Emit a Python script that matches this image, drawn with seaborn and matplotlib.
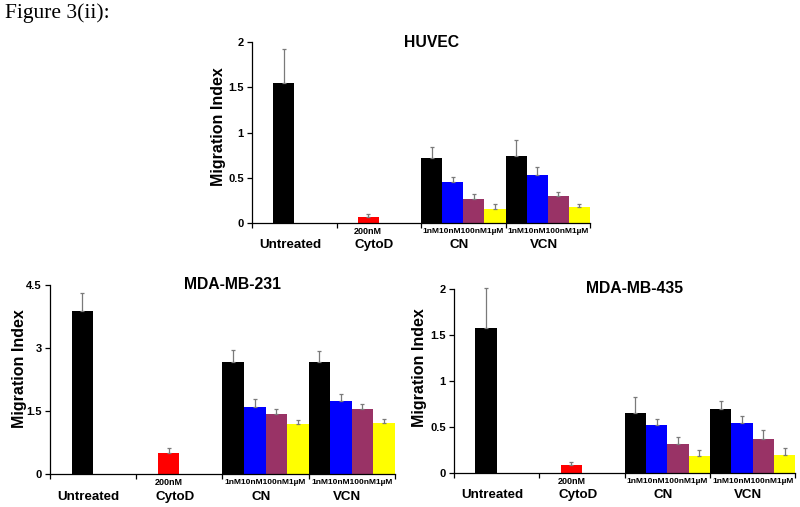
"""
Recreates Figure 3(ii): migration index bar charts for three cell lines.
"""
import matplotlib
matplotlib.use("Agg")
import matplotlib.pyplot as plt
import numpy as np
import pandas as pd
import seaborn as sns

# Shared categories and tick labels
groups = ["Untreated", "CytoD", "CN", "VCN"]
conc_labels = ["1nM", "10nM", "100nM", "1\u00b5M"]
cytod_label = "200nM"

# One entry per bar: group and dodge slot
bar_group = ["Untreated", "CytoD"] + ["CN"] * 4 + ["VCN"] * 4
bar_slot = ["10nM", "10nM"] + conc_labels * 2

# Values (mean, upper error)
huvec_mean = [1.55, 0.067, 0.717, 0.458, 0.266, 0.159, 0.739, 0.529, 0.299, 0.174]
huvec_err = [0.37, 0.03, 0.126, 0.048, 0.052, 0.052, 0.178, 0.096, 0.041, 0.04]

mda231_mean = [3.89, 0.49, 2.66, 1.60, 1.44, 1.20, 2.67, 1.75, 1.54, 1.21]
mda231_err = [0.41, 0.12, 0.28, 0.18, 0.10, 0.08, 0.25, 0.15, 0.12, 0.10]

mda435_mean = [1.576, 0.09, 0.652, 0.518, 0.319, 0.188, 0.692, 0.543, 0.373, 0.199]
mda435_err = [0.434, 0.033, 0.178, 0.069, 0.072, 0.066, 0.091, 0.08, 0.094, 0.073]

slot_palette = {"1nM": "#000000", "10nM": "#0000FF",
                "100nM": "#993366", "1\u00b5M": "#FFFF00"}
group_colors = {"Untreated": "#000000", "CytoD": "#FF0000"}

plt.rcParams["font.family"] = ["Liberation Sans", "DejaVu Sans"]
plt.rcParams["font.weight"] = "bold"


def draw_panel(fig, rect, title, means, errs, ymax, yticks, label_xy):
    """Draws one bar panel with one-sided error bars."""
    ax = fig.add_axes(rect)
    df = pd.DataFrame({"group": bar_group, "slot": bar_slot,
                       "value": means, "err": errs})
    sns.barplot(data=df, x="group", y="value", hue="slot",
                order=groups, hue_order=conc_labels, palette=slot_palette,
                width=1.0, gap=0, dodge=True, errorbar=None,
                legend=False, linewidth=0, saturation=1, ax=ax)

    err_lookup = {(g, s): e for g, s, e in zip(bar_group, bar_slot, errs)}
    for bar in ax.patches:
        h = bar.get_height()
        if not np.isfinite(h) or h <= 0:
            continue
        w = bar.get_width()
        cx = bar.get_x() + w / 2
        gi = int(round(cx))
        si = int(round((cx - gi + 0.5) / w - 0.5))
        g = groups[gi]
        if g in group_colors:
            bar.set_facecolor(group_colors[g])
            key = (g, "10nM")
        else:
            key = (g, conc_labels[si])
        eb = ax.errorbar(cx, h, yerr=[[0], [err_lookup[key]]], fmt="none",
                         ecolor="#7a7a7a", elinewidth=0.9, capsize=1.6,
                         capthick=0.9)
        for art in eb.lines[1] + eb.lines[2]:
            art.set_clip_on(False)

    ax.set_xlim(-0.5, len(groups) - 0.5)
    ax.set_ylim(0, ymax)
    ax.set_yticks(yticks)
    ax.set_yticklabels([f"{t:g}" for t in yticks])
    ax.set_xticks(np.arange(len(groups) + 1) - 0.5)
    ax.set_xticklabels([])
    ax.tick_params(axis="both", direction="out", length=3.5, width=0.9,
                   labelsize=8, pad=2.5)
    for side in ["top", "right"]:
        ax.spines[side].set_visible(False)
    for side in ["left", "bottom"]:
        ax.spines[side].set_linewidth(0.9)
        ax.spines[side].set_color("black")
    ax.set_xlabel("")
    ax.set_ylabel("Migration Index", fontsize=11.5, fontweight="bold")
    ax.yaxis.set_label_coords(*label_xy)
    ax.text(0.53, 1.0, title, transform=ax.transAxes, ha="center",
            va="center", fontsize=11.3, fontweight="bold")

    trans = ax.get_xaxis_transform()
    slot_w = 1.0 / len(conc_labels)
    ax.text(1 - 0.5 + 1.5 * slot_w, -0.045, cytod_label, transform=trans,
            ha="center", va="center", fontsize=6.5, fontweight="bold")
    for gi in (2, 3):
        ax.text(gi, -0.045, "".join(conc_labels), transform=trans,
                ha="center", va="center", fontsize=6, fontweight="bold")
    for gi, g in enumerate(groups):
        ax.text(gi - 0.05, -0.12, g, transform=trans, ha="center",
                va="center", fontsize=9.6, fontweight="bold")
    return ax


fig = plt.figure(figsize=(8, 5.07), dpi=100)
fig.text(0.006, 0.975, "Figure 3(ii):", ha="left", va="center",
         fontsize=15.5, fontweight="normal",
         family=["Liberation Serif", "DejaVu Serif"])

draw_panel(fig, [0.315, 0.560, 0.4225, 0.357], "HUVEC",
           huvec_mean, huvec_err, 2, [0, 0.5, 1, 1.5, 2], (-0.077, 0.535))
draw_panel(fig, [0.0625, 0.065, 0.431, 0.373], "MDA-MB-231",
           mda231_mean, mda231_err, 4.5, [0, 1.5, 3, 4.5], (-0.067, 0.56))
draw_panel(fig, [0.5675, 0.067, 0.4265, 0.363], "MDA-MB-435",
           mda435_mean, mda435_err, 2, [0, 0.5, 1, 1.5, 2], (-0.079, 0.575))

fig.savefig("out.png", dpi=100)
